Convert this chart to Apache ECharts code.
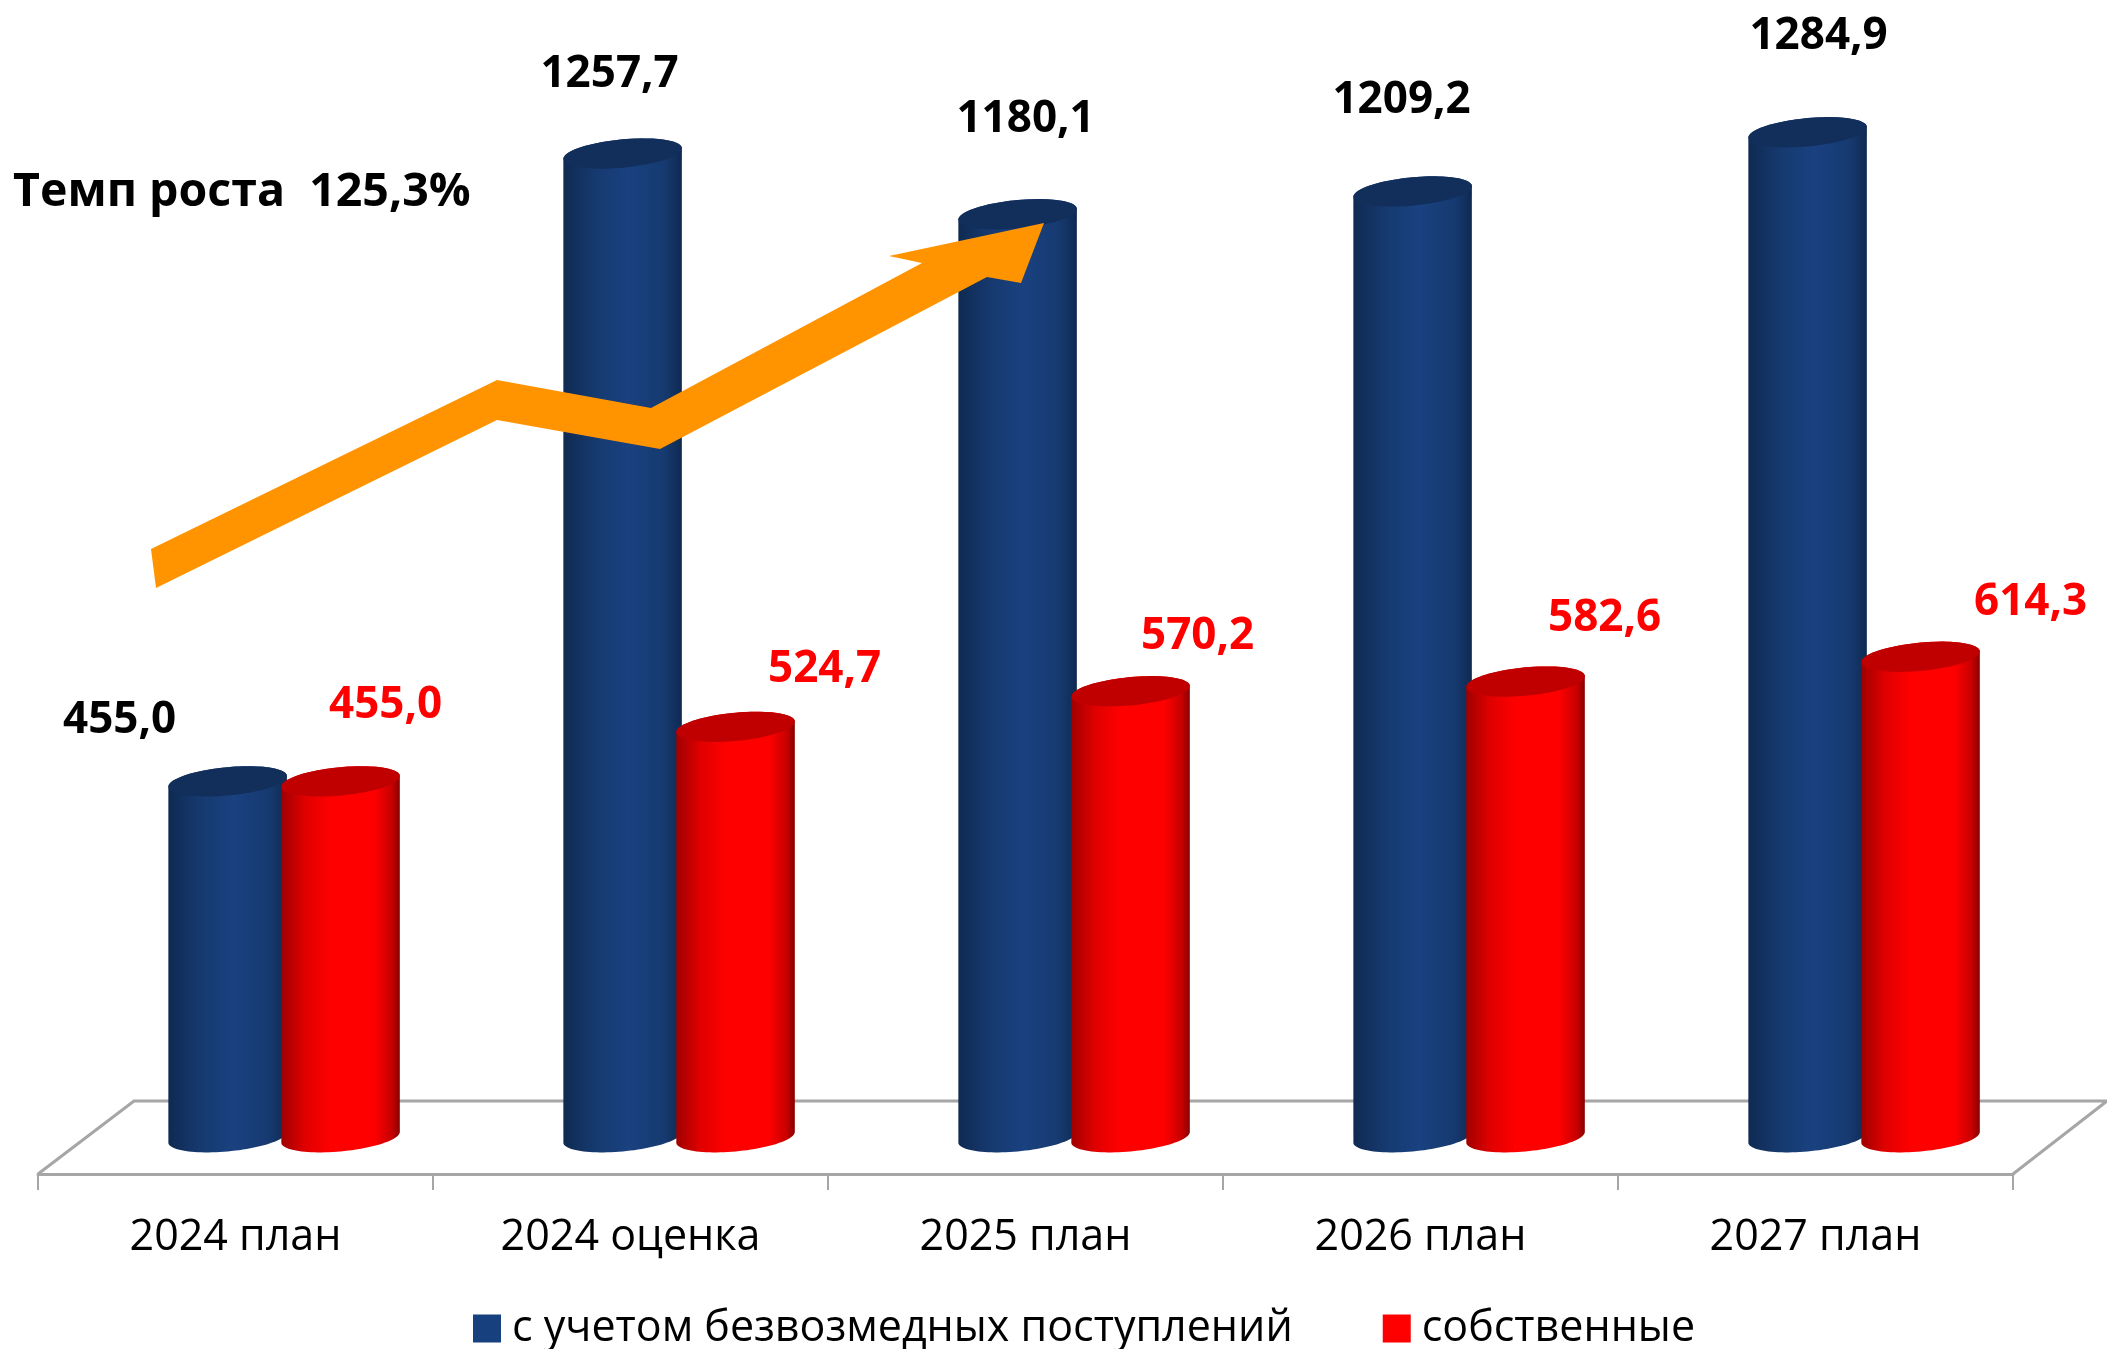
<!DOCTYPE html>
<html>
<head>
<meta charset="utf-8">
<title>Темп роста</title>
<script src="https://cdn.jsdelivr.net/npm/echarts@6/dist/echarts.min.js"></script>
<style>
  html, body { margin: 0; padding: 0; background: #fff; }
  #chart { width: 2107px; height: 1349px; }
</style>
</head>
<body>
<div id="chart"></div>
<script>
const categories = ["2024 план", "2024 оценка", "2025 план", "2026 план", "2027 план"];
const seriesNames = ["с учетом безвозмедных поступлений", "собственные"];
const totalValues = [455.0, 1257.7, 1180.1, 1209.2, 1284.9];
const ownValues = [455.0, 524.7, 570.2, 582.6, 614.3];

// the data labels were moved by hand in the original, so each has its own offset
const totalLabelOffsets = [[-108, -61], [-13, -79], [8, -95], [-11, -91], [11, -96]];
const ownLabelOffsets = [[45, -76], [89, -57], [67, -55], [79, -63], [110, -54]];

const arrowPoints = [
  [151, 549], [497, 380], [651, 408], [922, 263], [889, 256], [1044, 223],
  [1021, 283], [987, 277], [660, 449], [497, 420], [156, 588]
];

const FONT = '"Open Sans", "Noto Sans", sans-serif';
const GRAY = "#a6a6a6";

// Point on a cylinder's end cap: an ellipse sheared so its left end sits lower
function capPoint(cx, cy, rx, t) {
  const ry = 14.2;
  const shear = 0.09;
  return [
    cx + rx * Math.cos(t),
    cy + ry * Math.sin(t) - shear * rx * Math.cos(t)
  ];
}

function capArc(cx, cy, rx, from, to) {
  const pts = [];
  const steps = 48;
  for (let i = 0; i <= steps; i++) {
    pts.push(capPoint(cx, cy, rx, from + ((to - from) * i) / steps));
  }
  return pts;
}

function cylinderRenderer(opts) {
  return function (params, api) {
    const index = api.value(0);
    const value = api.value(1);
    const top = api.coord([index, value]);
    const base = api.coord([index, 0]);
    const band = api.size([1, 0])[0];
    const cx = top[0] + band * opts.shift;
    const rx = band * 0.15;

    // outline: bottom arc left to right, then top arc back over the far side
    const body = capArc(cx, base[1], rx, Math.PI, 0).concat(
      capArc(cx, top[1], rx, 0, -Math.PI)
    );
    const offset = opts.labelOffsets[index];

    return {
      type: "group",
      children: [
        {
          type: "polygon",
          shape: { points: body },
          style: {
            fill: new echarts.graphic.LinearGradient(0, 0, 1, 0, opts.stops)
          }
        },
        {
          type: "polygon",
          shape: { points: capArc(cx, top[1], rx, 0, Math.PI * 2) },
          style: { fill: opts.capColor }
        },
        {
          type: "text",
          x: cx + offset[0],
          y: top[1] + offset[1],
          z2: 10,
          style: {
            text: value.toFixed(1).replace(".", ","),
            fill: opts.labelColor,
            font: "bold 44px " + FONT,
            align: "center",
            verticalAlign: "middle"
          }
        }
      ]
    };
  };
}

const chart = echarts.init(document.getElementById("chart"));

const option = {
  backgroundColor: "#ffffff",
  animation: false,
  grid: { left: 38, width: 1975, top: 0, height: 1174 },
  legend: {
    left: 468,
    top: 1302,
    icon: "rect",
    itemWidth: 28,
    itemHeight: 28,
    itemGap: 90,
    textStyle: {
      fontFamily: FONT,
      fontSize: 43,
      color: "#000000",
      padding: [0, 0, 0, 6]
    },
    data: seriesNames
  },
  xAxis: {
    type: "category",
    data: categories,
    axisLine: { onZero: false, lineStyle: { color: GRAY, width: 3 } },
    axisTick: { show: true, length: 16, lineStyle: { color: GRAY, width: 2 } },
    axisLabel: { margin: 42, fontFamily: FONT, fontSize: 43, color: "#000000" }
  },
  yAxis: {
    type: "value",
    min: -47,
    max: 1454,
    show: false
  },
  series: [
    {
      name: seriesNames[0],
      type: "custom",
      itemStyle: { color: "#17407f" },
      encode: { x: 0, y: 1 },
      data: totalValues.map((v, i) => [i, v]),
      renderItem: cylinderRenderer({
        shift: -0.02,
        capColor: "#122f5c",
        labelColor: "#000000",
        labelOffsets: totalLabelOffsets,
        stops: [
          { offset: 0, color: "#0f2a52" },
          { offset: 0.28, color: "#163a70" },
          { offset: 0.55, color: "#1a4180" },
          { offset: 0.85, color: "#163a70" },
          { offset: 1, color: "#0f2a52" }
        ]
      }),
      z: 2
    },
    {
      name: seriesNames[1],
      type: "custom",
      itemStyle: { color: "#ff0000" },
      encode: { x: 0, y: 1 },
      data: ownValues.map((v, i) => [i, v]),
      renderItem: cylinderRenderer({
        shift: 0.266,
        capColor: "#c00000",
        labelColor: "#ff0000",
        labelOffsets: ownLabelOffsets,
        stops: [
          { offset: 0, color: "#a00000" },
          { offset: 0.2, color: "#e00000" },
          { offset: 0.42, color: "#ff0000" },
          { offset: 0.78, color: "#ff0000" },
          { offset: 0.93, color: "#c80000" },
          { offset: 1, color: "#8a0000" }
        ]
      }),
      z: 3
    }
  ],
  graphic: {
    elements: [
      {
        type: "polyline",
        z: 0,
        silent: true,
        shape: { points: [[38, 1174], [134, 1101], [2107, 1101], [2013, 1174]] },
        style: { stroke: GRAY, lineWidth: 3, fill: null }
      },
      {
        type: "polygon",
        z: 50,
        silent: true,
        shape: { points: arrowPoints },
        style: { fill: "#ff9400" }
      },
      {
        type: "text",
        left: 13,
        top: 169,
        z: 50,
        silent: true,
        style: {
          text: "Темп роста  125,3%",
          fill: "#000000",
          font: "bold 46.5px " + FONT
        }
      }
    ]
  }
};

chart.setOption(option);
</script>
</body>
</html>
